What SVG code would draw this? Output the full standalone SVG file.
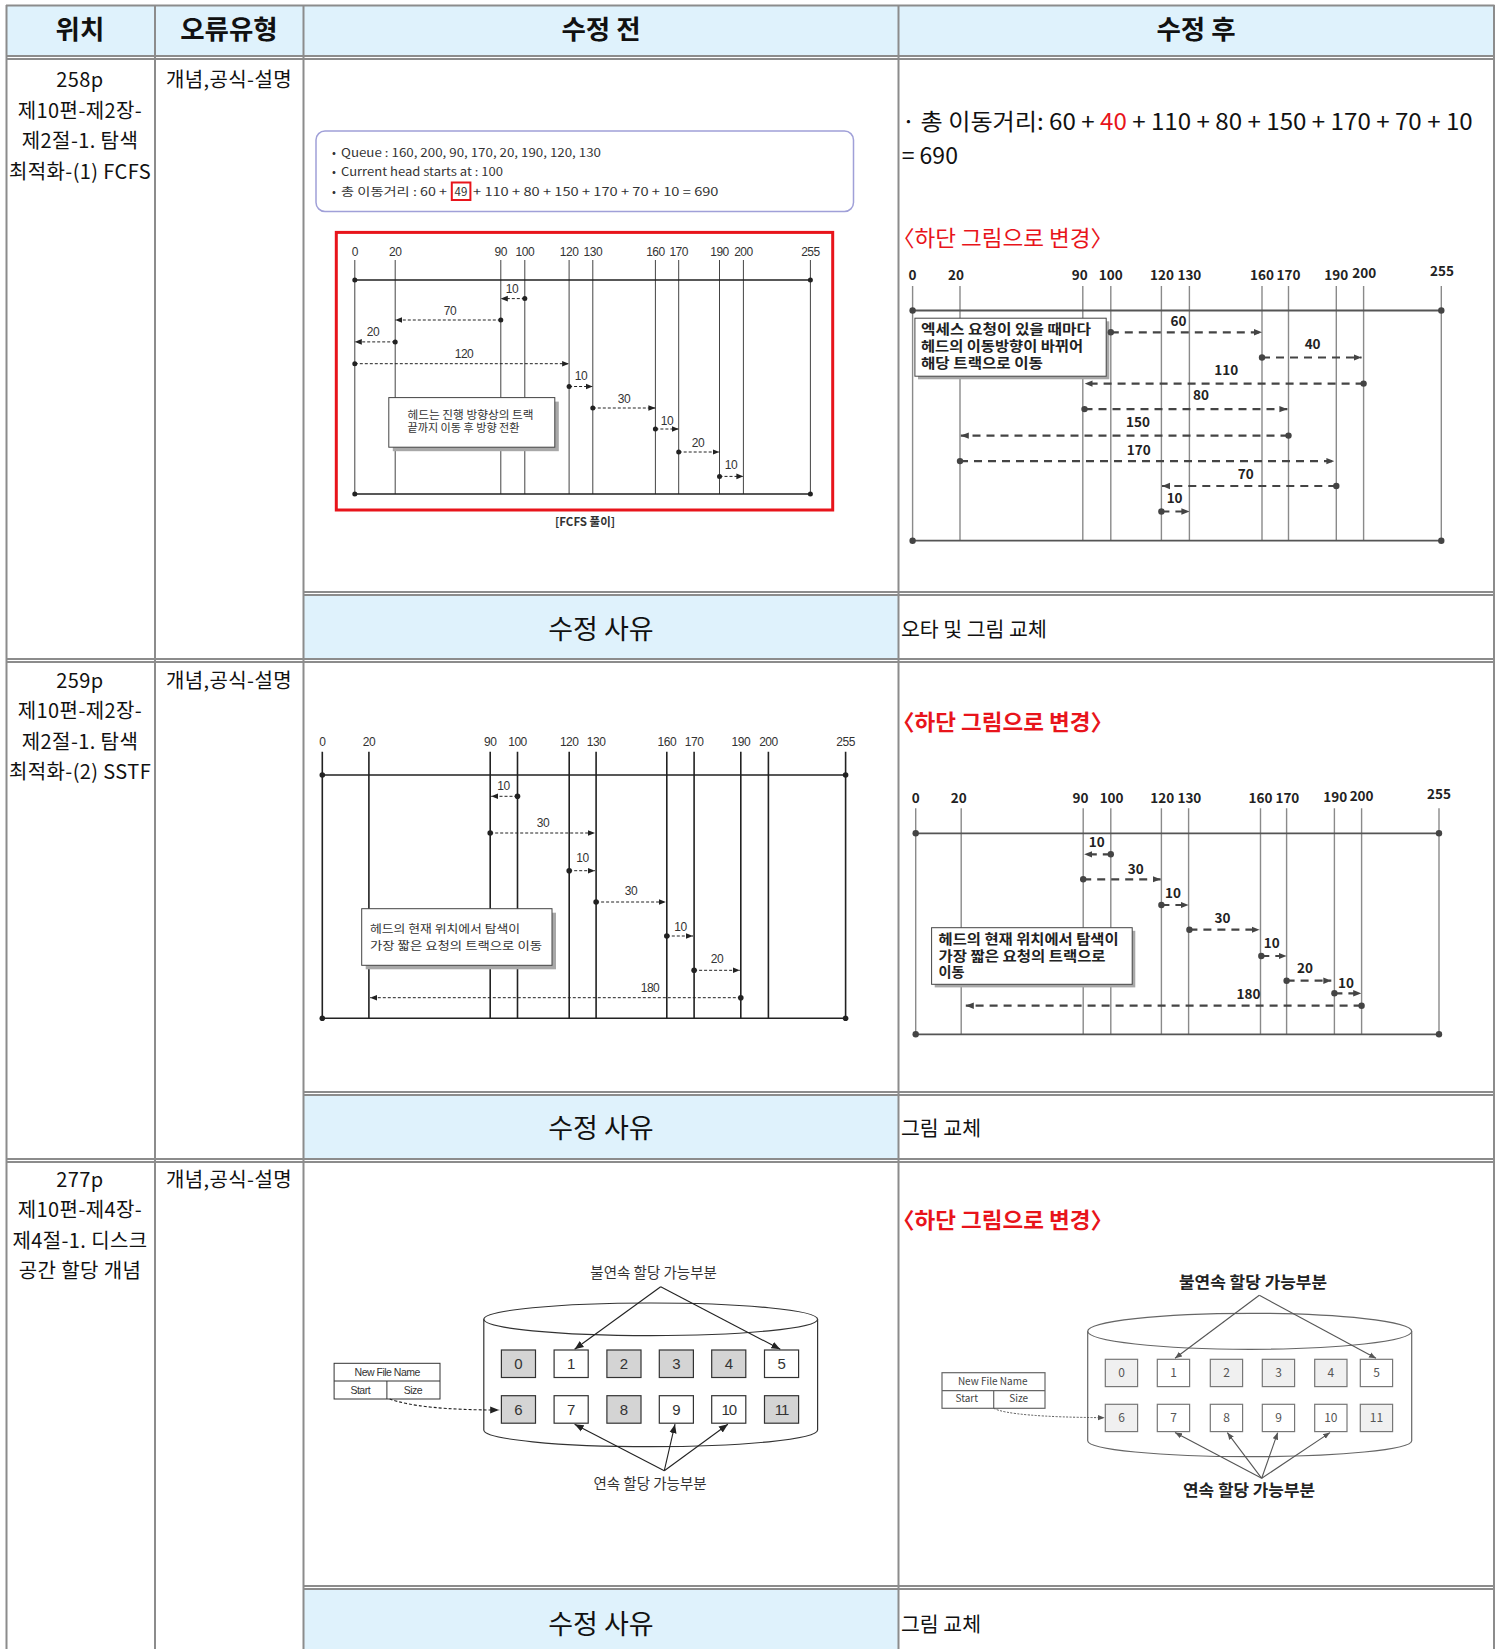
<svg xmlns="http://www.w3.org/2000/svg" width="1499" height="1649" viewBox="0 0 1499 1649">
<style>
.tb{stroke:#8c8c8c;stroke-width:2;fill:none}
.hd{fill:#dff2fc}
.t{font-family:"Noto Sans CJK KR","Noto Sans",sans-serif;fill:#111}
.h{font-size:26.5px;font-weight:bold;text-anchor:middle}
.c1{font-size:20px;text-anchor:middle;letter-spacing:0.4px}
.bl{font-family:"Liberation Sans","Noto Sans CJK KR",sans-serif;font-size:12px;fill:#333;text-anchor:middle;letter-spacing:-0.5px}
.bk{font-family:"Noto Sans CJK KR",sans-serif;font-size:11.5px;fill:#333}
.al{font-family:"Noto Sans CJK KR",sans-serif;font-weight:bold;font-size:13.5px;fill:#222;text-anchor:middle}
.vb{stroke:#444;stroke-width:1;fill:none}
.vs{stroke:#222;stroke-width:1.6;fill:none}
.va{stroke:#8a8a8a;stroke-width:1.4;fill:none}
.hb{stroke:#222;stroke-width:1.3;fill:none}
.ha{stroke:#555;stroke-width:1.8;fill:none}
.db{stroke:#222;stroke-width:1;stroke-dasharray:3 2;fill:none;marker-end:url(#ab)}
.da{stroke:#444;stroke-width:2.2;stroke-dasharray:8 6;fill:none;marker-end:url(#aa)}
.dot{fill:#222}
.dta{fill:#444}
.bx{fill:#fff;stroke:#444;stroke-width:1}
.sh{fill:#a8a8a8}
.red{fill:#e8141b}
</style>
<defs>
<marker id="ab" viewBox="0 0 10 10" refX="10" refY="5" markerWidth="7" markerHeight="7" markerUnits="userSpaceOnUse" orient="auto"><path d="M0,1 L10,5 L0,9 z" fill="#222"/></marker>
<marker id="aa" viewBox="0 0 10 10" refX="10" refY="5" markerWidth="8" markerHeight="8" markerUnits="userSpaceOnUse" orient="auto"><path d="M0,1 L10,5 L0,9 z" fill="#444"/></marker>
<marker id="ad" viewBox="0 0 10 10" refX="10" refY="5" markerWidth="9" markerHeight="9" markerUnits="userSpaceOnUse" orient="auto"><path d="M0,1 L10,5 L0,9 z" fill="#222"/></marker>
<marker id="ae" viewBox="0 0 10 10" refX="10" refY="5" markerWidth="7" markerHeight="7" markerUnits="userSpaceOnUse" orient="auto"><path d="M0,1 L10,5 L0,9 z" fill="#555"/></marker>
</defs>
<rect width="1499" height="1649" fill="#fff"/>

<g id="table">
<rect class="hd" x="7" y="6" width="1487" height="50"/>
<rect class="hd" x="304" y="595" width="594" height="64"/>
<rect class="hd" x="304" y="1095" width="594" height="64"/>
<rect class="hd" x="304" y="1589" width="594" height="60"/>
<path class="tb" d="M6,5.5H1494.5M6,56H1494.5M6,59H1494.5M6,659H1494.5M6,662H1494.5M6,1159H1494.5M6,1162H1494.5M303.5,592H1494.5M303.5,595H1494.5M303.5,1092H1494.5M303.5,1095H1494.5M303.5,1586H1494.5M303.5,1589H1494.5"/>
<path class="tb" d="M6.5,5V1649M155,5V1649M303.5,5V1649M898.5,5V1649M1494,5V1649"/>
<g class="t h"><text x="80" y="38.5">위치</text><text x="229" y="38.5">오류유형</text><text x="601" y="38.5">수정 전</text><text x="1196" y="38.5">수정 후</text></g>
<g class="t c1">
<text x="80" y="87">258p</text><text x="80" y="117.5">제10편-제2장-</text><text x="80" y="148">제2절-1. 탐색</text><text x="80" y="178.5">최적화-(1) FCFS</text>
<text x="229" y="87">개념,공식-설명</text>
<text x="80" y="687.5">259p</text><text x="80" y="718">제10편-제2장-</text><text x="80" y="748.5">제2절-1. 탐색</text><text x="80" y="779">최적화-(2) SSTF</text>
<text x="229" y="687.5">개념,공식-설명</text>
<text x="80" y="1187">277p</text><text x="80" y="1217">제10편-제4장-</text><text x="80" y="1247.5">제4절-1. 디스크</text><text x="80" y="1278">공간 할당 개념</text>
<text x="229" y="1187">개념,공식-설명</text>
</g>
<g class="t" font-size="27" text-anchor="middle"><text x="601" y="638.5">수정 사유</text><text x="601" y="1138">수정 사유</text><text x="601" y="1633.5">수정 사유</text></g>
<g class="t" font-size="20.5"><text x="901" y="636.5">오타 및 그림 교체</text><text x="901" y="1136">그림 교체</text><text x="901" y="1631.5">그림 교체</text></g>
<text class="t" x="901.7" y="130" font-size="23" textLength="571" lengthAdjust="spacingAndGlyphs">· 총 이동거리: 60 + <tspan fill="#e8141b">40</tspan> + 110 + 80 + 150 + 170 + 70 + 10</text>
<text class="t" x="901.7" y="163.5" font-size="23">= 690</text>
<text class="t red" x="892" y="245.5" font-size="22" textLength="221" lengthAdjust="spacingAndGlyphs">〈하단 그림으로 변경〉</text>
<text class="t red" x="892" y="729.5" font-size="22" font-weight="bold" textLength="221" lengthAdjust="spacingAndGlyphs">〈하단 그림으로 변경〉</text>
<text class="t red" x="892" y="1228" font-size="22" font-weight="bold" textLength="221" lengthAdjust="spacingAndGlyphs">〈하단 그림으로 변경〉</text>
</g>

<g id="fcfs-before">
<rect x="316" y="131" width="537.5" height="80.5" rx="9" fill="#fff" stroke="#a0a0d8" stroke-width="1.5"/>
<g class="bk" font-size="12.5">
<text x="332" y="156.5">•</text><text x="341" y="156.5" textLength="260" lengthAdjust="spacingAndGlyphs">Queue : 160, 200, 90, 170, 20, 190, 120, 130</text>
<text x="332" y="175.5">•</text><text x="341" y="175.5" textLength="162" lengthAdjust="spacingAndGlyphs">Current head starts at : 100</text>
<text x="332" y="195.5">•</text><text x="341" y="195.5" textLength="106" lengthAdjust="spacingAndGlyphs">총 이동거리 : 60 +</text>
<text x="461" y="195.5" text-anchor="middle">49</text>
<text x="473" y="195.5" textLength="245.5" lengthAdjust="spacingAndGlyphs">+ 110 + 80 + 150 + 170 + 70 + 10 = 690</text>
</g>
<rect x="451.8" y="182.5" width="18.6" height="17.5" fill="none" stroke="#e8141b" stroke-width="2"/>
<rect x="336.3" y="232.4" width="496.4" height="277.6" fill="none" stroke="#e8141b" stroke-width="3"/>
<path class="vb" d="M354.8,260V494M395.2,260V494M500.8,260V494M524.8,260V494M569.1,260V494M592.8,260V494M655.4,260V494M678.7,260V494M719.5,260V494M743.4,260V494M810.4,260V494"/>
<path class="hb" d="M354.8,280H810.4M354.8,494H810.4"/>
<g class="bl"><text x="354.8" y="255.5">0</text><text x="395.2" y="255.5">20</text><text x="500.8" y="255.5">90</text><text x="524.8" y="255.5">100</text><text x="569.1" y="255.5">120</text><text x="592.8" y="255.5">130</text><text x="655.4" y="255.5">160</text><text x="678.7" y="255.5">170</text><text x="719.5" y="255.5">190</text><text x="743.4" y="255.5">200</text><text x="810.4" y="255.5">255</text></g>
<rect class="sh" x="392.8" y="401.6" width="166" height="49.6"/>
<rect class="bx" x="388.8" y="397.6" width="166" height="49.6"/>
<text class="bk" x="407.5" y="418.5" textLength="126" lengthAdjust="spacingAndGlyphs">헤드는 진행 방향상의 트랙</text>
<text class="bk" x="407.5" y="432" textLength="112" lengthAdjust="spacingAndGlyphs">끝까지 이동 후 방향 전환</text>
<text class="bk" x="585" y="526" text-anchor="middle" font-weight="bold" fill="#444">[FCFS 풀이]</text>
<g class="bl"><text x="512" y="293.4">10</text><text x="450" y="315.2">70</text><text x="373" y="336.3">20</text><text x="464" y="357.8">120</text><text x="581" y="379.5">10</text><text x="624" y="402.5">30</text><text x="667" y="424.5">10</text><text x="698" y="446.5">20</text><text x="731" y="469.2">10</text></g>
</g>

<g id="fcfs-after">
<path class="va" d="M912.6,286V541M960,286V541M1082.8,286V541M1110.8,286V541M1161.4,286V541M1189.4,286V541M1262,286V541M1288.5,286V541M1336.3,286V541M1363.6,286V541M1441.3,286V541"/>
<path class="ha" d="M912.6,310.5H1441.3M912.6,540.7H1441.3"/>
<circle class="dta" cx="912.6" cy="310.5" r="3.2"/><circle class="dta" cx="1441.3" cy="310.5" r="3.2"/><circle class="dta" cx="912.6" cy="540.7" r="3.2"/><circle class="dta" cx="1441.3" cy="540.7" r="3.2"/>
<g class="al"><text x="912.6" y="279.5">0</text><text x="956" y="279.5">20</text><text x="1079.7" y="279.5">90</text><text x="1110.8" y="279.5">100</text><text x="1162" y="279.5">120</text><text x="1189.4" y="279.5">130</text><text x="1262" y="279.5">160</text><text x="1288.5" y="279.5">170</text><text x="1336.3" y="279.5">190</text><text x="1364.3" y="277.5">200</text><text x="1442" y="276">255</text></g>
<rect class="sh" x="918" y="321.3" width="191.3" height="58" fill="#bbb"/>
<rect class="bx" x="914.9" y="318.2" width="191.3" height="58"/>
<g class="al" font-size="12.5"><text x="921" y="334" text-anchor="start" textLength="170" lengthAdjust="spacingAndGlyphs">엑세스 요청이 있을 때마다</text><text x="921" y="351" text-anchor="start" textLength="162" lengthAdjust="spacingAndGlyphs">헤드의 이동방향이 바뀌어</text><text x="921" y="367.5" text-anchor="start" textLength="122" lengthAdjust="spacingAndGlyphs">해당 트랙으로 이동</text></g>
<g class="al"><text x="1178.5" y="325.9">60</text><text x="1312.6" y="349.4">40</text><text x="1226.3" y="375.2">110</text><text x="1201" y="400.4">80</text><text x="1138" y="427.2">150</text><text x="1138.8" y="454.7">170</text><text x="1245.8" y="479.2">70</text><text x="1174.6" y="503">10</text></g>
</g>

<g id="sstf-before">
<path class="vs" d="M322.3,751.7V1018.3M368.9,751.7V1018.3M490.2,751.7V1018.3M517.5,751.7V1018.3M569.2,751.7V1018.3M596.1,751.7V1018.3M666.8,751.7V1018.3M694.1,751.7V1018.3M740.8,751.7V1018.3M768.4,751.7V1018.3M845.6,751.7V1018.3"/>
<path class="vs" d="M322.3,775H845.6M322.3,1018.3H845.6"/>
<circle class="dot" cx="322.3" cy="775" r="2.8"/><circle class="dot" cx="845.6" cy="775" r="2.8"/><circle class="dot" cx="322.3" cy="1018.3" r="2.8"/><circle class="dot" cx="845.6" cy="1018.3" r="2.8"/>
<g class="bl"><text x="322.3" y="746">0</text><text x="368.9" y="746">20</text><text x="490.2" y="746">90</text><text x="517.5" y="746">100</text><text x="569.2" y="746">120</text><text x="596.1" y="746">130</text><text x="666.8" y="746">160</text><text x="694.1" y="746">170</text><text x="740.8" y="746">190</text><text x="768.4" y="746">200</text><text x="845.6" y="746">255</text></g>
<rect class="sh" x="365.7" y="912.7" width="190.3" height="56.6"/>
<rect class="bx" x="361.7" y="908.7" width="190.3" height="56.6"/>
<text class="bk" x="370" y="932.5" font-size="12" textLength="150" lengthAdjust="spacingAndGlyphs">헤드의 현재 위치에서 탐색이</text>
<text class="bk" x="370" y="949.5" font-size="12" textLength="172" lengthAdjust="spacingAndGlyphs">가장 짧은 요청의 트랙으로 이동</text>
<g class="bl"><text x="503.5" y="789.5">10</text><text x="543" y="827.2">30</text><text x="582.5" y="861.8">10</text><text x="631" y="895.2">30</text><text x="680.5" y="930.5">10</text><text x="717" y="962.8">20</text><text x="650" y="991.8">180</text></g>
</g>

<g id="sstf-after">
<path class="va" d="M915.7,808.3V1035M961.2,808.3V1035M1083.2,808.3V1035M1110.8,808.3V1035M1161.4,808.3V1035M1188.6,808.3V1035M1260.5,808.3V1035M1286.6,808.3V1035M1334.4,808.3V1035M1361.6,808.3V1035M1439,808.3V1035"/>
<path class="ha" d="M915.7,833.3H1439M915.7,1034.3H1439"/>
<circle class="dta" cx="915.7" cy="833.3" r="3.2"/><circle class="dta" cx="1439" cy="833.3" r="3.2"/><circle class="dta" cx="915.7" cy="1034.3" r="3.2"/><circle class="dta" cx="1439" cy="1034.3" r="3.2"/>
<g class="al"><text x="915.7" y="803.3">0</text><text x="958.8" y="803.3">20</text><text x="1080.5" y="803.3">90</text><text x="1111.6" y="803.3">100</text><text x="1162.2" y="803.3">120</text><text x="1189.4" y="803.3">130</text><text x="1260.5" y="803.3">160</text><text x="1287.4" y="803.3">170</text><text x="1335.2" y="802">190</text><text x="1361.6" y="800.7">200</text><text x="1439" y="799.3">255</text></g>
<rect class="sh" x="934.7" y="930.8" width="200.6" height="56.6" fill="#bbb"/>
<rect class="bx" x="931.6" y="927.7" width="200.6" height="56.6"/>
<g class="al" font-size="12.5"><text x="938.6" y="944" text-anchor="start" textLength="180" lengthAdjust="spacingAndGlyphs">헤드의 현재 위치에서 탐색이</text><text x="938.6" y="960.7" text-anchor="start" textLength="167" lengthAdjust="spacingAndGlyphs">가장 짧은 요청의 트랙으로</text><text x="938.6" y="976.7" text-anchor="start" textLength="26" lengthAdjust="spacingAndGlyphs">이동</text></g>
<g class="al"><text x="1096.8" y="846.7">10</text><text x="1135.7" y="874.3">30</text><text x="1173" y="898.3">10</text><text x="1222.4" y="923.3">30</text><text x="1271.8" y="948.3">10</text><text x="1304.9" y="973.3">20</text><text x="1346" y="987.7">10</text><text x="1248.5" y="999">180</text></g>
</g>

<g id="disk-before">
<ellipse cx="650.7" cy="1319.3" rx="166.9" ry="16.3" fill="none" stroke="#333" stroke-width="1.2"/>
<path d="M483.8,1319.3V1430A166.9,16.7 0 0 0 817.6,1430V1319.3" fill="none" stroke="#333" stroke-width="1.2"/>
<g stroke="#333" stroke-width="1.2">
<rect x="501.4" y="1350" width="34.1" height="27.5" fill="#d4d4d4"/><rect x="554.1" y="1350" width="34.1" height="27.5" fill="#fff"/><rect x="606.9" y="1350" width="34.1" height="27.5" fill="#d4d4d4"/><rect x="659.3" y="1350" width="34.1" height="27.5" fill="#d4d4d4"/><rect x="711.7" y="1350" width="34.1" height="27.5" fill="#d4d4d4"/><rect x="764.5" y="1350" width="34.1" height="27.5" fill="#fff"/>
<rect x="501.4" y="1395.7" width="34.1" height="27.5" fill="#d4d4d4"/><rect x="554.1" y="1395.7" width="34.1" height="27.5" fill="#fff"/><rect x="606.9" y="1395.7" width="34.1" height="27.5" fill="#d4d4d4"/><rect x="659.3" y="1395.7" width="34.1" height="27.5" fill="#fff"/><rect x="711.7" y="1395.7" width="34.1" height="27.5" fill="#fff"/><rect x="764.5" y="1395.7" width="34.1" height="27.5" fill="#d4d4d4"/>
</g>
<g font-family="Liberation Sans,sans-serif" font-size="15" fill="#333" text-anchor="middle">
<text x="518.5" y="1369">0</text><text x="571.2" y="1369">1</text><text x="624" y="1369">2</text><text x="676.4" y="1369">3</text><text x="728.8" y="1369">4</text><text x="781.6" y="1369">5</text>
<text x="518.5" y="1414.7">6</text><text x="571.2" y="1414.7">7</text><text x="624" y="1414.7">8</text><text x="676.4" y="1414.7">9</text><text x="728.8" y="1414.7" letter-spacing="-1">10</text><text x="781.6" y="1414.7" letter-spacing="-1">11</text>
</g>
<rect x="334.1" y="1363.3" width="105.9" height="35.7" fill="#fff" stroke="#333" stroke-width="1"/>
<path d="M334.1,1381H440M386.9,1381V1399" stroke="#333" stroke-width="1"/>
<g font-family="Liberation Sans,sans-serif" font-size="10.5" fill="#333" text-anchor="middle" letter-spacing="-0.5"><text x="387.2" y="1376">New File Name</text><text x="360.3" y="1394">Start</text><text x="413" y="1394">Size</text></g>
<text x="653.6" y="1278" font-family="Noto Sans CJK KR,sans-serif" font-size="14.5" fill="#333" text-anchor="middle">불연속 할당 가능부분</text>
<text x="650" y="1488.5" font-family="Noto Sans CJK KR,sans-serif" font-size="14.5" fill="#333" text-anchor="middle">연속 할당 가능부분</text>
</g>

<g id="disk-after">
<ellipse cx="1249.7" cy="1331.3" rx="162" ry="18" fill="none" stroke="#666" stroke-width="1.2"/>
<path d="M1087.7,1331.3V1440.7A162,16 0 0 0 1411.7,1440.7V1331.3" fill="none" stroke="#666" stroke-width="1.2"/>
<g stroke="#777" stroke-width="1.2">
<rect x="1105.3" y="1359.3" width="32.3" height="27.3" fill="#f0f0f0"/><rect x="1157.3" y="1359.3" width="32.3" height="27.3" fill="#fff"/><rect x="1210.3" y="1359.3" width="32.3" height="27.3" fill="#f0f0f0"/><rect x="1262.3" y="1359.3" width="32.3" height="27.3" fill="#f0f0f0"/><rect x="1314.7" y="1359.3" width="32.3" height="27.3" fill="#f0f0f0"/><rect x="1360.3" y="1359.3" width="32.3" height="27.3" fill="#fff"/>
<rect x="1105.3" y="1404.3" width="32.3" height="27.3" fill="#f0f0f0"/><rect x="1157.3" y="1404.3" width="32.3" height="27.3" fill="#fff"/><rect x="1210.3" y="1404.3" width="32.3" height="27.3" fill="#fff"/><rect x="1262.3" y="1404.3" width="32.3" height="27.3" fill="#fff"/><rect x="1314.7" y="1404.3" width="32.3" height="27.3" fill="#fff"/><rect x="1360.3" y="1404.3" width="32.3" height="27.3" fill="#f0f0f0"/>
</g>
<g font-family="Noto Sans CJK KR,sans-serif" font-size="12" fill="#555" text-anchor="middle">
<text x="1121.5" y="1377.3">0</text><text x="1173.5" y="1377.3">1</text><text x="1226.5" y="1377.3">2</text><text x="1278.5" y="1377.3">3</text><text x="1330.8" y="1377.3">4</text><text x="1376.5" y="1377.3">5</text>
<text x="1121.5" y="1422.3">6</text><text x="1173.5" y="1422.3">7</text><text x="1226.5" y="1422.3">8</text><text x="1278.5" y="1422.3">9</text><text x="1330.8" y="1422.3">10</text><text x="1376.5" y="1422.3">11</text>
</g>
<rect x="942" y="1372.7" width="103" height="35.6" fill="#fff" stroke="#666" stroke-width="1.2"/>
<path d="M942,1390.7H1045M993.7,1390.7V1408.3" stroke="#666" stroke-width="1.2"/>
<g font-family="Noto Sans CJK KR,sans-serif" font-size="10" fill="#444" text-anchor="middle"><text x="992.7" y="1384.7">New File Name</text><text x="966.7" y="1402.3">Start</text><text x="1018.7" y="1402.3">Size</text></g>
<text x="1179" y="1287.5" font-family="Noto Sans CJK KR,sans-serif" font-size="16" font-weight="bold" fill="#222" textLength="148" lengthAdjust="spacingAndGlyphs">불연속 할당 가능부분</text>
<text x="1183" y="1496" font-family="Noto Sans CJK KR,sans-serif" font-size="16" font-weight="bold" fill="#222" textLength="132" lengthAdjust="spacingAndGlyphs">연속 할당 가능부분</text>
</g>

<g id="connectors">
<g id="fcfs-before-arrows">
<line class="db" x1="524.8" y1="298.6" x2="500.8" y2="298.6"/><circle class="dot" cx="524.8" cy="298.6" r="2.5"/>
<line class="db" x1="500.8" y1="320" x2="395.2" y2="320"/><circle class="dot" cx="500.8" cy="320" r="2.5"/>
<line class="db" x1="395.2" y1="341.9" x2="354.8" y2="341.9"/><circle class="dot" cx="395.2" cy="341.9" r="2.5"/>
<line class="db" x1="354.8" y1="363.7" x2="569.1" y2="363.7"/><circle class="dot" cx="354.8" cy="363.7" r="2.5"/>
<line class="db" x1="569.1" y1="386.5" x2="592.8" y2="386.5"/><circle class="dot" cx="569.1" cy="386.5" r="2.5"/>
<line class="db" x1="592.8" y1="408" x2="655.4" y2="408"/><circle class="dot" cx="592.8" cy="408" r="2.5"/>
<line class="db" x1="655.4" y1="429" x2="678.7" y2="429"/><circle class="dot" cx="655.4" cy="429" r="2.5"/>
<line class="db" x1="678.7" y1="452" x2="719.5" y2="452"/><circle class="dot" cx="678.7" cy="452" r="2.5"/>
<line class="db" x1="719.5" y1="476.4" x2="743.4" y2="476.4"/><circle class="dot" cx="719.5" cy="476.4" r="2.5"/>
<circle class="dot" cx="354.8" cy="280" r="2.5"/><circle class="dot" cx="810.4" cy="280" r="2.5"/><circle class="dot" cx="354.8" cy="494" r="2.5"/><circle class="dot" cx="810.4" cy="494" r="2.5"/>
</g>
<g id="fcfs-after-arrows">
<line class="da" x1="1110.8" y1="332.3" x2="1262" y2="332.3"/><circle class="dta" cx="1110.8" cy="332.3" r="3.2"/>
<line class="da" x1="1262" y1="357.5" x2="1361.6" y2="357.5"/><circle class="dta" cx="1262" cy="357.5" r="3.2"/>
<line class="da" x1="1363.6" y1="383.6" x2="1084.5" y2="383.6"/><circle class="dta" cx="1363.6" cy="383.6" r="3.2"/>
<line class="da" x1="1084.5" y1="409.1" x2="1287.4" y2="409.1"/><circle class="dta" cx="1084.5" cy="409.1" r="3.2"/>
<line class="da" x1="1288.5" y1="435.6" x2="960.8" y2="435.6"/><circle class="dta" cx="1288.5" cy="435.6" r="3.2"/>
<line class="da" x1="960" y1="461.1" x2="1334.4" y2="461.1"/><circle class="dta" cx="960" cy="461.1" r="3.2"/>
<line class="da" x1="1336.3" y1="486" x2="1162" y2="486"/><circle class="dta" cx="1336.3" cy="486" r="3.2"/>
<line class="da" x1="1161.4" y1="511.5" x2="1189.4" y2="511.5"/><circle class="dta" cx="1161.4" cy="511.5" r="3.2"/>
</g>
<g id="sstf-before-arrows">
<line class="db" x1="517.5" y1="796.3" x2="491.2" y2="796.3"/><circle class="dot" cx="517.5" cy="796.3" r="2.8"/>
<line class="db" x1="490.2" y1="833" x2="595" y2="833"/><circle class="dot" cx="490.2" cy="833" r="2.8"/>
<line class="db" x1="569.2" y1="870.7" x2="595" y2="870.7"/><circle class="dot" cx="569.2" cy="870.7" r="2.8"/>
<line class="db" x1="596.1" y1="902" x2="665.8" y2="902"/><circle class="dot" cx="596.1" cy="902" r="2.8"/>
<line class="db" x1="666.8" y1="936" x2="693" y2="936"/><circle class="dot" cx="666.8" cy="936" r="2.8"/>
<line class="db" x1="694.1" y1="970.3" x2="739.8" y2="970.3"/><circle class="dot" cx="694.1" cy="970.3" r="2.8"/>
<line class="db" x1="740.8" y1="997.7" x2="370" y2="997.7"/><circle class="dot" cx="740.8" cy="997.7" r="2.8"/>
</g>
<g id="sstf-after-arrows">
<line class="da" x1="1110.8" y1="854.3" x2="1084.2" y2="854.3"/><circle class="dta" cx="1110.8" cy="854.3" r="3.2"/>
<line class="da" x1="1083.2" y1="879.3" x2="1160.6" y2="879.3"/><circle class="dta" cx="1083.2" cy="879.3" r="3.2"/>
<line class="da" x1="1161.4" y1="905" x2="1188.6" y2="905"/><circle class="dta" cx="1161.4" cy="905" r="3.2"/>
<line class="da" x1="1189.4" y1="929.7" x2="1259.5" y2="929.7"/><circle class="dta" cx="1189.4" cy="929.7" r="3.2"/>
<line class="da" x1="1261.3" y1="956" x2="1286.6" y2="956"/><circle class="dta" cx="1261.3" cy="956" r="3.2"/>
<line class="da" x1="1286.6" y1="980.7" x2="1331.3" y2="980.7"/><circle class="dta" cx="1286.6" cy="980.7" r="3.2"/>
<line class="da" x1="1334.4" y1="993.3" x2="1361.2" y2="993.3"/><circle class="dta" cx="1334.4" cy="993.3" r="3.2"/>
<line class="da" x1="1361.6" y1="1005.7" x2="965.8" y2="1005.7"/><circle class="dta" cx="1361.6" cy="1005.7" r="3.2"/>
</g>
<g id="disk-before-arrows" stroke="#222" stroke-width="1.1" fill="none">
<line x1="660.7" y1="1286.7" x2="574.6" y2="1349.3" marker-end="url(#ad)"/>
<line x1="660.7" y1="1286.7" x2="780.3" y2="1349.3" marker-end="url(#ad)"/>
<line x1="664.3" y1="1470.7" x2="574.6" y2="1424.2" marker-end="url(#ad)"/>
<line x1="664.3" y1="1470.7" x2="675" y2="1424.2" marker-end="url(#ad)"/>
<line x1="664.3" y1="1470.7" x2="727.9" y2="1424.2" marker-end="url(#ad)"/>
<path d="M389.7,1399Q420,1410 499.2,1410" stroke-dasharray="3 2" marker-end="url(#ad)"/>
</g>
<g id="disk-after-arrows" stroke="#555" stroke-width="1.1" fill="none">
<line x1="1259.3" y1="1295.3" x2="1175" y2="1358.3" marker-end="url(#ae)"/>
<line x1="1259.3" y1="1295.3" x2="1376" y2="1358.3" marker-end="url(#ae)"/>
<line x1="1261.7" y1="1478.3" x2="1175" y2="1432.6" marker-end="url(#ae)"/>
<line x1="1261.7" y1="1478.3" x2="1227.3" y2="1432.6" marker-end="url(#ae)"/>
<line x1="1261.7" y1="1478.3" x2="1277.7" y2="1432.6" marker-end="url(#ae)"/>
<line x1="1261.7" y1="1478.3" x2="1330" y2="1432.6" marker-end="url(#ae)"/>
<path d="M993.7,1408.3Q1010,1417 1104.7,1417.7" stroke-dasharray="2 1.5" stroke-width="1" marker-end="url(#ae)"/>
</g>
</g>
</svg>
